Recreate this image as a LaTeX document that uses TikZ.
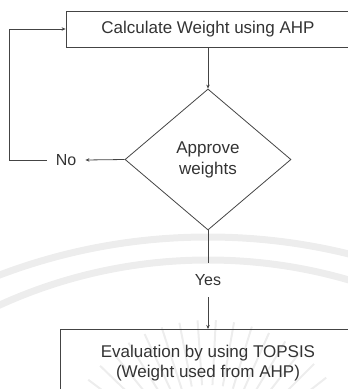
\documentclass[tikz,border=0pt]{standalone}
\usepackage{fontspec}
\setmainfont{Liberation Sans}
\usetikzlibrary{shapes.geometric,arrows.meta,calc}

\definecolor{inkline}{HTML}{444444}
\definecolor{inktext}{HTML}{333333}
\definecolor{sealgray}{HTML}{EDEDED}

\begin{document}
\begin{tikzpicture}[x=1pt,y=-1pt,
  flowbox/.style={draw=inkline, line width=0.8pt, rectangle, inner sep=0pt,
    text=inktext, font=\fontsize{17}{19.5}\selectfont, align=center},
  decision/.style={draw=inkline, line width=0.8pt, diamond, inner sep=0pt,
    minimum width=166pt, minimum height=141pt,
    text=inktext, font=\fontsize{17}{21}\selectfont, align=center},
  edgelabel/.style={text=inktext, font=\fontsize{16}{19}\selectfont, inner sep=0pt},
  link/.style={draw=inkline, line width=0.8pt},
  arrowlink/.style={link, -{Stealth[length=4pt,width=3.5pt]}}
]
\useasboundingbox (0,0) rectangle (348,389);
\clip (0,0) rectangle (348,389);

% faint seal watermark behind the chart
\begin{scope}[draw=sealgray]
  \draw[line width=7pt] (208,825) circle[radius=588];
  \draw[line width=7pt] (208,763) circle[radius=503];
  \foreach \a in {-150,-143,...,-30}
    \draw[line width=2pt] ($(208,470)+(\a:85)$) -- ($(208,470)+(\a:150)$);
\end{scope}

% process and decision nodes
\node[flowbox, minimum width=284pt, minimum height=36pt] (calc) at (208,29)
  {Calculate Weight using AHP};
\node[decision] (dec) at (208,159.5) {Approve\\weights};
\node[flowbox, anchor=north, minimum width=296pt, minimum height=67pt] (eval) at (208,329)
  {Evaluation by using TOPSIS\\(Weight used from AHP)};

% branch labels
\node[edgelabel, inner xsep=9pt] (no) at (66,160) {No};
\node[edgelabel, minimum height=34pt] (yes) at (208,280) {Yes};
\coordinate (loop) at (9,160);

% connectors
\draw[arrowlink] (calc.south) -- (dec.north);
\draw[arrowlink] (dec.west) -- (no.east);
\draw[arrowlink] (no.west) -- (loop) |- (calc.west);
\draw[link] (dec.south) -- (yes.north);
\draw[arrowlink] (yes.south) -- (eval.north);
\end{tikzpicture}
\end{document}
